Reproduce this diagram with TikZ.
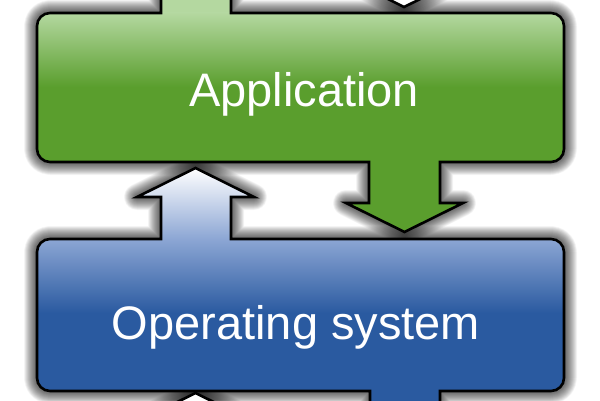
\documentclass[tikz,border=0pt]{standalone}
\usepackage{fontspec}
\setmainfont{Liberation Sans}
\definecolor{gdark}{RGB}{90,158,45}
\definecolor{glight}{RGB}{180,216,160}
\definecolor{bdark}{RGB}{42,90,160}
\definecolor{blight}{RGB}{140,166,212}
\def\greenshape{(37,374) arc[start angle=180,end angle=90,radius=13] -- (161,387) -- (161,440) -- (231,440) -- (231,387) -- (551,387) arc[start angle=90,end angle=0,radius=13] -- (564,251) arc[start angle=0,end angle=-90,radius=13] -- (440,238) -- (440,197) -- (463,197) -- (404.5,168) -- (346,197) -- (369,197) -- (369,238) -- (50,238) arc[start angle=-90,end angle=-180,radius=13] -- cycle}
\def\blueshape{(37,148) arc[start angle=180,end angle=90,radius=13] -- (161,161) -- (161,203) -- (137,203) -- (195.5,232) -- (254,203) -- (231,203) -- (231,161) -- (551,161) arc[start angle=90,end angle=0,radius=13] -- (564,22) arc[start angle=0,end angle=-90,radius=13] -- (440,9) -- (440,-40) -- (370,-40) -- (370,9) -- (50,9) arc[start angle=-90,end angle=-180,radius=13] -- cycle}
\def\topshape{(369,450) -- (369,422) -- (346,422) -- (404,393) -- (463,422) -- (440,422) -- (440,450) -- cycle}
\def\botshape{(161,-50) -- (161,-22) -- (137,-22) -- (195.5,7) -- (254,-22) -- (231,-22) -- (231,-50) -- cycle}
\tikzset{
  outline/.style={draw=black,line width=2.6pt,line join=miter},
  glow/.style={draw=black,line width=#1,opacity=0.03,line join=round},
  label/.style={text=white,font=\fontsize{47}{47}\selectfont,anchor=base,inner sep=0pt}
}
\begin{document}
\begin{tikzpicture}[x=1pt,y=1pt]
\useasboundingbox (0,0) rectangle (600,400);
\fill[white] (0,0) rectangle (600,400);
\clip (0,0) rectangle (600,400);
% glow shadows
\foreach \w in {3,...,26}{
  \path[glow=\w pt] \greenshape;
  \path[glow=\w pt] \blueshape;
  \path[glow=\w pt] \topshape;
  \path[glow=\w pt] \botshape;
}
% white arrows from outside
\fill[white] \topshape;
\fill[white] \botshape;
% green shape
\begin{scope}
  \clip \greenshape;
  \fill[gdark] (0,150) rectangle (600,450);
  \fill[glight] (0,387) rectangle (600,450);
  \shade[top color=glight,bottom color=gdark] (0,313) rectangle (600,387);
\end{scope}
% blue shape
\begin{scope}
  \clip \blueshape;
  \fill[bdark] (0,-50) rectangle (600,240);
  \shade[top color=white,bottom color=blight] (0,161) rectangle (600,232);
  \shade[top color=blight,bottom color=bdark] (0,87) rectangle (600,161);
\end{scope}
\path[outline] \topshape;
\path[outline] \botshape;
\path[outline] \greenshape;
\path[outline] \blueshape;
\node[label] (app) at (304,294) {Application};
\node[label] (os) at (296,61) {Operating system};
\end{tikzpicture}
\end{document}
